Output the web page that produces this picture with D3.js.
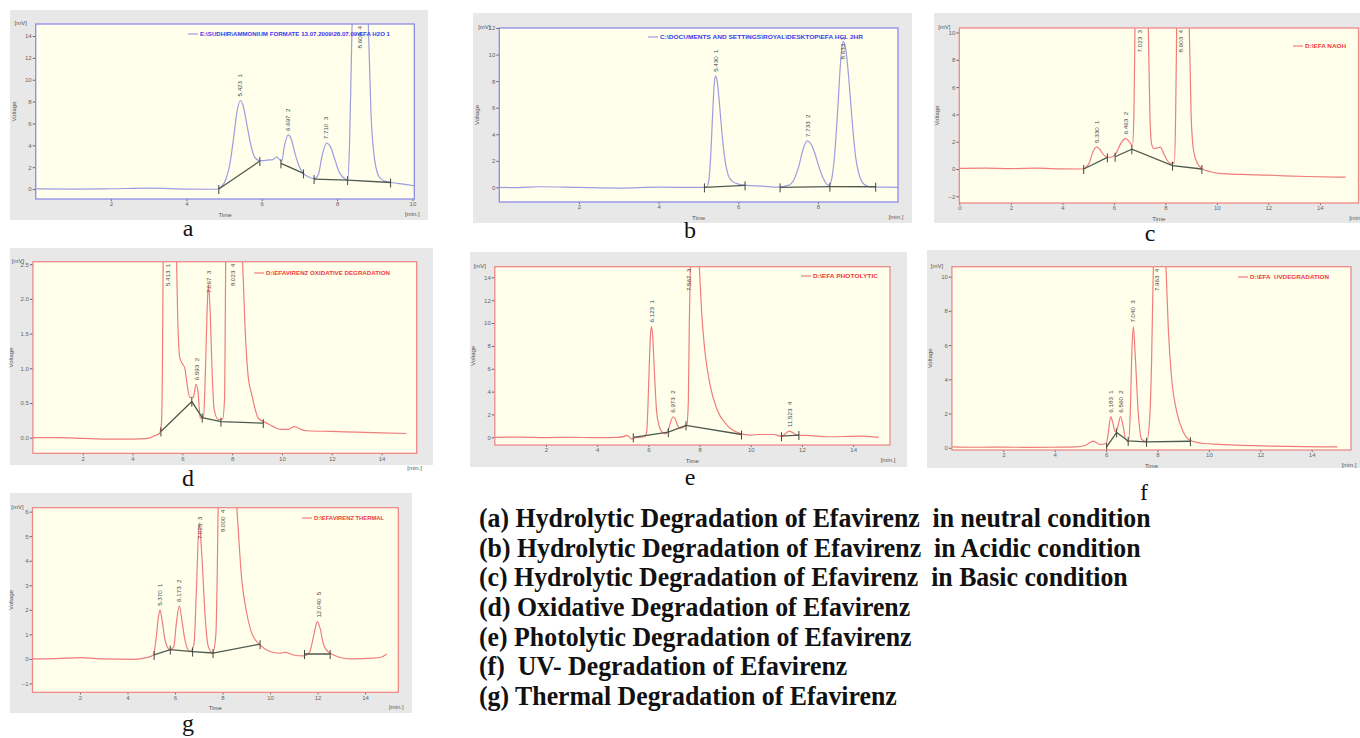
<!DOCTYPE html>
<html>
<head>
<meta charset="utf-8">
<script src="https://cdn.jsdelivr.net/npm/d3@7"></script>
<style>
  body { margin: 0; background: #fff; }
  svg { display: block; }
</style>
</head>
<body>
<svg id="fig" width="1360" height="738"></svg>
<script>
// ---- chromatogram traces, [time (min), voltage (mV)] ----
var curveA = [[0,0.02],[1,0.0],[2,0.03],[3,0.08],[4,0.0],[4.8,-0.02],[4.92,0.2],[5.05,0.9],[5.15,2.2],[5.25,4.6],[5.35,7.2],[5.43,8.1],[5.5,7.7],[5.6,6.0],[5.7,4.2],[5.8,3.0],[5.9,2.65],[6.0,2.6],[6.15,2.65],[6.3,2.7],[6.4,2.95],[6.47,2.7],[6.53,2.55],[6.6,3.9],[6.7,4.95],[6.78,4.6],[6.88,3.3],[6.98,2.2],[7.1,1.45],[7.25,1.1],[7.4,0.95],[7.5,1.3],[7.6,3.0],[7.72,4.2],[7.82,3.9],[7.95,2.6],[8.05,1.6],[8.15,1.1],[8.28,0.85],[8.33,4],[8.38,12],[8.45,22],[8.6,26],[8.75,22],[8.83,15],[8.9,7],[9.0,2.6],[9.12,1.1],[9.25,0.75],[9.45,0.6],[9.75,0.45],[10.05,0.3]];
var curveB = [[0,0.0],[0.5,-0.02],[1,0.05],[2,0.0],[3,-0.05],[4,0.02],[5,0.0],[5.2,0.02],[5.26,0.5],[5.31,2.5],[5.36,5.8],[5.4,7.9],[5.43,8.4],[5.47,8.0],[5.53,6.2],[5.6,3.8],[5.67,2.0],[5.75,0.9],[5.85,0.45],[6.0,0.25],[6.2,0.15],[6.6,0.1],[7.0,0.02],[7.25,0.15],[7.4,0.6],[7.52,1.6],[7.62,2.8],[7.73,3.5],[7.83,3.25],[7.93,2.5],[8.03,1.5],[8.13,0.7],[8.22,0.25],[8.28,0.15],[8.35,0.7],[8.42,2.5],[8.5,6.0],[8.57,9.5],[8.63,11.0],[8.7,10.4],[8.78,8.0],[8.87,4.6],[8.95,2.2],[9.05,0.8],[9.15,0.25],[9.3,0.05],[9.7,0.02],[10,0.0]];
var curveC = [[0,0.05],[1,0.06],[2,0.03],[3,0.06],[4,0.01],[4.75,0.0],[4.9,0.1],[5.05,0.45],[5.18,1.2],[5.33,1.62],[5.45,1.45],[5.6,1.05],[5.75,0.85],[5.95,0.9],[6.1,1.2],[6.28,1.9],[6.46,2.25],[6.6,2.0],[6.72,1.7],[6.78,4],[6.82,10.3],[6.88,20],[7.05,24],[7.25,20],[7.34,10.3],[7.4,4],[7.47,1.8],[7.55,1.5],[7.7,1.55],[7.8,1.6],[7.92,1.2],[8.05,0.7],[8.2,0.42],[8.35,0.45],[8.4,4],[8.44,10.3],[8.5,20],[8.65,24],[8.85,20],[8.93,10.3],[9.0,4],[9.1,1.3],[9.25,0.4],[9.45,0.0],[9.75,-0.2],[10.1,-0.32],[11,-0.4],[12,-0.45],[12.6,-0.5],[13.5,-0.55],[15,-0.6]];
var curveD = [[0,0.0],[1,0.0],[2,-0.01],[3,-0.02],[4,-0.02],[4.6,-0.01],[4.9,0.03],[5.08,0.06],[5.16,0.2],[5.2,1.0],[5.23,2.54],[5.3,4],[5.5,4.5],[5.7,4],[5.77,2.54],[5.81,1.8],[5.9,1.15],[6.03,1.05],[6.1,1.0],[6.2,0.75],[6.3,0.58],[6.44,0.58],[6.55,0.77],[6.63,0.66],[6.72,0.28],[6.85,0.3],[6.93,1.0],[7.0,1.9],[7.05,2.2],[7.12,1.8],[7.2,0.9],[7.28,0.4],[7.45,0.26],[7.62,0.27],[7.7,0.6],[7.74,2.54],[7.85,4],[8.1,4.5],[8.35,4],[8.42,2.54],[8.45,2.25],[8.52,1.58],[8.65,0.86],[8.79,0.62],[9.05,0.28],[9.39,0.21],[9.65,0.16],[9.95,0.12],[10.25,0.12],[10.5,0.16],[10.75,0.12],[11,0.1],[12,0.09],[13,0.08],[14,0.07],[15,0.06]];
var curveE = [[0,0.0],[1,0.02],[2,-0.02],[3,0.0],[4,-0.03],[4.8,0.0],[5.05,0.08],[5.15,0.18],[5.25,0.05],[5.35,-0.15],[5.45,-0.05],[5.6,0.0],[5.85,0.05],[5.93,0.4],[5.98,2.5],[6.03,6.0],[6.08,8.9],[6.12,9.7],[6.17,8.8],[6.24,5.5],[6.32,2.3],[6.42,1.0],[6.52,0.5],[6.68,0.3],[6.8,0.8],[6.9,1.55],[6.97,1.8],[7.05,1.6],[7.15,1.0],[7.23,0.8],[7.38,0.9],[7.5,1.1],[7.56,3],[7.6,10],[7.64,14.93],[7.75,19],[7.9,18],[7.99,14.93],[8.08,11],[8.21,7.5],[8.41,4.6],[8.67,2.5],[9.06,1.1],[9.58,0.35],[9.97,0.2],[10.36,0.25],[10.88,0.25],[11.2,0.1],[11.35,0.3],[11.5,0.55],[11.65,0.4],[11.8,0.2],[12.35,0.15],[13,0.05],[14.3,0.1],[15,0.0]];
var curveF = [[0,0.05],[1,0.03],[2,0.04],[3,0.02],[3.95,0.03],[4.8,0.05],[5.2,0.15],[5.5,0.39],[5.76,0.2],[6.0,0.25],[6.08,0.8],[6.18,1.82],[6.27,1.4],[6.35,0.94],[6.45,1.2],[6.56,1.82],[6.66,1.3],[6.76,0.5],[6.87,0.35],[6.94,2.0],[7.0,5.5],[7.06,7.08],[7.13,5.5],[7.25,2.1],[7.38,0.5],[7.58,0.35],[7.7,1.8],[7.77,5],[7.84,10.58],[8.0,14],[8.2,14],[8.33,10.58],[8.42,7.0],[8.55,4.06],[8.75,2.1],[9.0,0.94],[9.26,0.45],[9.78,0.25],[10.4,0.2],[11.05,0.15],[12.35,0.1],[15,0.05]];
var curveG = [[0,0.0],[1,0.01],[2,0.05],[3,0.0],[4.24,-0.02],[4.8,0.05],[5.09,0.16],[5.2,0.8],[5.3,1.7],[5.37,2.0],[5.45,1.6],[5.58,0.77],[5.79,0.37],[5.95,0.5],[6.05,1.4],[6.18,2.16],[6.3,1.5],[6.42,0.77],[6.63,0.3],[6.8,0.6],[6.9,2.8],[7.02,5.55],[7.13,4.2],[7.26,1.85],[7.4,0.5],[7.59,0.24],[7.72,1.0],[7.77,3.0],[7.82,6.16],[8.1,8],[8.45,8],[8.6,6.16],[8.81,3.22],[9.02,1.86],[9.23,1.05],[9.58,0.57],[10.0,0.3],[10.42,0.23],[10.63,0.27],[10.98,0.16],[11.4,0.12],[11.65,0.25],[11.85,1.0],[11.99,1.52],[12.12,1.2],[12.25,0.6],[12.53,0.23],[13.37,0.0],[14.35,0.03],[14.7,0.08],[14.91,0.2]];

// ---- integration baselines (segments of [time, voltage]) ----
var baseA = [[[4.86,0.0],[5.95,2.56]], [[6.51,2.35],[7.11,1.43]], [[7.39,0.91],[8.28,0.82],[9.42,0.6]]];
var baseB = [[[5.15,0.0],[6.17,0.15]], [[7.05,0.0],[8.3,0.05],[9.45,0.05]]];
var baseC = [[[4.83,0.0],[5.75,0.85]], [[6.05,0.9],[6.7,1.45],[8.28,0.25],[9.42,0.0]]];
var baseD = [[[5.14,0.09],[6.38,0.52],[6.8,0.29],[7.55,0.23],[9.25,0.21]]];
var baseE = [[[5.41,0.0],[6.78,0.45],[7.47,1.05],[9.64,0.25]], [[11.2,0.1],[11.88,0.2]]];
var baseF = [[[6.02,0.05],[6.41,0.9],[6.86,0.4],[7.57,0.35],[9.28,0.38]]];
var baseG = [[[5.12,0.16],[5.8,0.38],[6.74,0.3],[7.6,0.24],[9.58,0.6]], [[11.45,0.2],[12.53,0.2]]];

// ---- peak retention times and numbers ----
var peaksA = [['5.423',1],['6.697',2],['7.710',3],['8.603',4]];
var peaksB = [['5.430',1],['7.733',2],['8.633',3]];
var peaksC = [['5.330',1],['6.463',2],['7.023',3],['8.603',4]];
var peaksD = [['5.413',1],['6.593',2],['7.067',3],['8.023',4]];
var peaksE = [['6.123',1],['6.973',2],['7.567',3],['11.523',4]];
var peaksF = [['6.183',1],['6.560',2],['7.040',3],['7.963',4]];
var peaksG = [['5.370',1],['6.173',2],['7.025',3],['8.000',4],['12.040',5]];

// ---- legends ----
var legendA = 'E:\\SUDHIR\\AMMONIUM FORMATE 13.07.2009\\28.07.09\\EFA H2O 1';
var legendB = 'C:\\DOCUMENTS AND SETTINGS\\ROYAL\\DESKTOP\\EFA HCL 2HR';
var legendC = 'D:\\EFA NAOH';
var legendD = 'D:\\EFAVIRENZ OXIDATIVE DEGRADATION';
var legendE = 'D:\\EFA PHOTOLYTIC';
var legendF = 'D:\\EFA  UVDEGRADATION';
var legendG = 'D:\\EFAVIRENZ THERMAL';

// ---- tick values ----
var xTicks10 = [2,4,6,8,10];
var xTicks8 = [2,4,6,8];
var xTicks0to14 = [0,2,4,6,8,10,12,14];
var xTicks2to14 = [2,4,6,8,10,12,14];
var yTicksA = [0,2,4,6,8,10,12,14];
var yTicksB = [0,2,4,6,8,10,12];
var yTicksC = [-2,0,2,4,6,8,10];
var yTicksD = [0,0.5,1,1.5,2,2.5];
var yTicksE = [0,2,4,6,8,10,12,14];
var yTicksF = [0,2,4,6,8,10];
var yTicksG = [-1,0,1,2,3,4,5,6];

var captionLines = [
  '(a) Hydrolytic Degradation of Efavirenz  in neutral condition',
  '(b) Hydrolytic Degradation of Efavirenz  in Acidic condition',
  '(c) Hydrolytic Degradation of Efavirenz  in Basic condition',
  '(d) Oxidative Degradation of Efavirenz',
  '(e) Photolytic Degradation of Efavirenz',
  '(f)  UV- Degradation of Efavirenz',
  '(g) Thermal Degradation of Efavirenz'
];

var schemes = {
  blue: { frame: '#8c8ce8', trace: '#9d9de0', legend: '#3a3af0' },
  red:  { frame: '#ee8a8a', trace: '#f07c7c', legend: '#f03a3a' }
};

var panels = [
  { id:'a', scheme:'blue', curve:curveA, base:baseA, peaks:peaksA, legend:legendA, xTicks:xTicks10, yTicks:yTicksA,
    outer:[10,10,428,220], frame:[35.7,24,414.3,199], x:[0,10.05], y:[-0.91,15.1], leg:[188,36,190], letter:[188,236], time:true },
  { id:'b', scheme:'blue', curve:curveB, base:baseB, peaks:peaksB, legend:legendB, xTicks:xTicks8, yTicks:yTicksB,
    outer:[473,13,912,223], frame:[499.3,28,898,202], x:[0,10.01], y:[-1.1,12], leg:[648,39,203], letter:[690,238], time:true },
  { id:'c', scheme:'red', curve:curveC, base:baseC, peaks:peaksC, legend:legendC, xTicks:xTicks0to14, yTicks:yTicksC,
    outer:[934,13,1375,223], frame:[959.3,28,1358.5,203], x:[0,15.5], y:[-2.49,10.33], leg:[1293,48,41], letter:[1150,241], time:true },
  { id:'d', scheme:'red', curve:curveD, base:baseD, peaks:peaksD, legend:legendD, xTicks:xTicks2to14, yTicks:yTicksD, yFmt:'.1f',
    outer:[10,248,433,465], frame:[32.9,261.7,416.7,453.3], x:[0,15.41], y:[-0.225,2.536], leg:[254,275,124], letter:[188,486], time:false },
  { id:'e', scheme:'red', curve:curveE, base:baseE, peaks:peaksE, legend:legendE, xTicks:xTicks2to14, yTicks:yTicksE,
    outer:[470,252,907,467], frame:[494.8,266.7,890,445], x:[0,15.44], y:[-0.67,14.93], leg:[801,278,65], letter:[690,485], time:true },
  { id:'f', scheme:'red', curve:curveF, base:baseF, peaks:peaksF, legend:legendF, xTicks:xTicks2to14, yTicks:yTicksF,
    outer:[927,250,1360,468], frame:[951.9,266.7,1351,450], x:[0,15.53], y:[-0.13,10.58], leg:[1238,279,79], letter:[1144,500], time:true },
  { id:'g', scheme:'red', curve:curveG, base:baseG, peaks:peaksG, legend:legendG, xTicks:xTicks2to14, yTicks:yTicksG,
    outer:[10,493,412,713], frame:[32.5,507.7,398.3,692.3], x:[0,15.4], y:[-1.36,6.16], leg:[302,520,70], letter:[188,731], time:true }
];

var svg = d3.select('#fig');
var defs = svg.append('defs');
var smallFont = "'Liberation Sans', Arial, sans-serif";

function drawPanel(p) {
  var col = schemes[p.scheme];
  var fx0 = p.frame[0], fy0 = p.frame[1], fx1 = p.frame[2], fy1 = p.frame[3];
  var g = svg.append('g').attr('class', 'panel panel-' + p.id);

  // grey card + plot area
  g.append('rect')
    .attr('x', p.outer[0]).attr('y', p.outer[1])
    .attr('width', p.outer[2] - p.outer[0]).attr('height', p.outer[3] - p.outer[1])
    .attr('fill', '#e8e8e8');
  g.append('rect')
    .attr('x', fx0).attr('y', fy0)
    .attr('width', fx1 - fx0).attr('height', fy1 - fy0)
    .attr('fill', '#ffffec');

  var x = d3.scaleLinear().domain(p.x).range([fx0, fx1]);
  var y = d3.scaleLinear().domain(p.y).range([fy1, fy0]);

  defs.append('clipPath').attr('id', 'clip-' + p.id)
    .append('rect')
    .attr('x', fx0).attr('y', fy0)
    .attr('width', fx1 - fx0).attr('height', fy1 - fy0);

  // axes
  var xAxis = g.append('g')
    .attr('transform', 'translate(0,' + fy1 + ')')
    .call(d3.axisBottom(x).tickValues(p.xTicks).tickSize(2).tickPadding(1).tickFormat(d3.format('d')));
  var yAxis = g.append('g')
    .attr('transform', 'translate(' + fx0 + ',0)')
    .call(d3.axisLeft(y).tickValues(p.yTicks).tickSize(3).tickPadding(1).tickFormat(d3.format(p.yFmt || 'd')));
  [xAxis, yAxis].forEach(function(ax){
    ax.select('.domain').remove();
    ax.attr('font-size', 6).attr('font-family', smallFont).attr('color', '#666');
  });

  // trace + baselines, clipped to plot area
  var plot = g.append('g').attr('clip-path', 'url(#clip-' + p.id + ')');
  var line = d3.line()
    .x(function(d){ return x(d[0]); })
    .y(function(d){ return y(d[1]); });

  plot.append('path')
    .datum(p.curve)
    .attr('d', line.curve(d3.curveMonotoneX))
    .attr('fill', 'none')
    .attr('stroke', col.trace)
    .attr('stroke-width', 1.2);

  var straight = d3.line()
    .x(function(d){ return x(d[0]); })
    .y(function(d){ return y(d[1]); });
  p.base.forEach(function(seg){
    plot.append('path')
      .datum(seg)
      .attr('d', straight)
      .attr('fill', 'none')
      .attr('stroke', '#4f5a4f')
      .attr('stroke-width', 1.3);
    plot.selectAll(null)
      .data(seg)
      .enter().append('line')
      .attr('x1', function(d){ return x(d[0]); })
      .attr('x2', function(d){ return x(d[0]); })
      .attr('y1', function(d){ return y(d[1]) - 4; })
      .attr('y2', function(d){ return y(d[1]) + 5; })
      .attr('stroke', '#3f463f')
      .attr('stroke-width', 1);
  });

  // frame on top
  g.append('rect')
    .attr('x', fx0).attr('y', fy0)
    .attr('width', fx1 - fx0).attr('height', fy1 - fy0)
    .attr('fill', 'none')
    .attr('stroke', col.frame)
    .attr('stroke-width', 1.3);

  // peak labels: above apex; hang from the top when there is no room above
  p.peaks.forEach(function(pk){
    var rt = +pk[0];
    var near = p.curve.filter(function(d){ return Math.abs(d[0] - rt) <= 0.12; });
    var top = d3.max(near, function(d){ return d[1]; });
    var clipped = top >= p.y[1] * 0.99;
    var px = x(rt) + 2.2;
    var lbl = g.append('text')
      .attr('font-family', smallFont)
      .attr('font-size', 6.2)
      .attr('fill', '#4a4a4a')
      .style('white-space', 'pre')
      .text(pk[0] + '  ' + pk[1]);
    var len = lbl.node().getComputedTextLength();
    var py, anchor;
    if (clipped) {
      py = fy0 + 2; anchor = 'end';
    } else if (y(top) - 4 - len < fy0 + 2) {
      py = fy0 + 9; anchor = 'end';
    } else {
      py = y(top) - 4; anchor = 'start';
    }
    lbl.attr('transform', 'translate(' + px + ',' + py + ') rotate(-90)')
      .attr('text-anchor', anchor);
  });

  // legend
  g.append('line')
    .attr('x1', p.leg[0]).attr('x2', p.leg[0] + 10)
    .attr('y1', p.leg[1] - 2).attr('y2', p.leg[1] - 2)
    .attr('stroke', col.trace).attr('stroke-width', 1.2);
  g.append('text')
    .attr('x', p.leg[0] + 12).attr('y', p.leg[1])
    .attr('font-family', smallFont)
    .attr('font-size', 6)
    .attr('font-weight', 'bold')
    .attr('fill', col.legend)
    .attr('textLength', p.leg[2])
    .attr('lengthAdjust', 'spacingAndGlyphs')
    .style('white-space', 'pre')
    .text(p.legend);

  // axis titles
  var small = function(){
    return g.append('text').attr('font-family', smallFont).attr('font-size', 6).attr('fill', '#555');
  };
  small().attr('x', fx0 - 15).attr('y', fy0 + 1).attr('text-anchor', 'middle').text('[mV]');
  small().attr('transform', 'translate(' + (fx0 - 20) + ',' + ((fy0 + fy1) / 2) + ') rotate(-90)')
    .attr('text-anchor', 'middle').text('Voltage');
  small().attr('x', fx1 - 2).attr('y', fy1 + 17).attr('text-anchor', 'middle').text('[min.]');
  if (p.time) {
    small().attr('x', (fx0 + fx1) / 2).attr('y', fy1 + 18).attr('text-anchor', 'middle').text('Time');
  }

  // sub-figure letter
  svg.append('text')
    .attr('x', p.letter[0]).attr('y', p.letter[1])
    .attr('text-anchor', 'middle')
    .attr('font-family', "'Liberation Serif', 'Times New Roman', serif")
    .attr('font-size', 24)
    .attr('fill', '#111')
    .text(p.id);
}

panels.forEach(drawPanel);

// caption block
var cap = svg.append('g').attr('class', 'caption');
var capText = cap.selectAll('text')
  .data(captionLines)
  .enter().append('text')
  .attr('x', 0)
  .attr('y', function(d, i){ return 527 + i * 29.7; })
  .attr('font-family', "'Liberation Serif', 'Times New Roman', serif")
  .attr('font-weight', 'bold')
  .attr('font-size', 27)
  .attr('fill', '#111')
  .style('white-space', 'pre')
  .text(function(d){ return d; });

var firstW = capText.node().getComputedTextLength();
var sx = 672 / firstW;
cap.attr('transform', 'translate(479,0) scale(' + sx + ',1)');
</script>
</body>
</html>
